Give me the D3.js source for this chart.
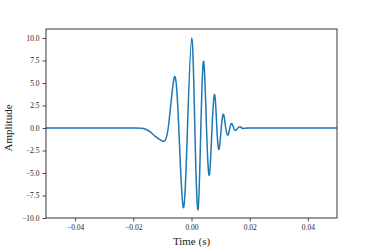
<!DOCTYPE html>
<html>
<head>
<meta charset="utf-8">
<script src="https://cdn.jsdelivr.net/npm/d3@7"></script>
<style>
  body { margin: 0; background: #fff; }
  svg { display: block; }
  .tick text { font-family: "Liberation Serif", "DejaVu Serif", serif; }
</style>
</head>
<body>
<svg id="chart" width="374" height="249"></svg>
<script>
// waveform (extrema + zero crossings)
var time = [-0.05, -0.03, -0.0195, -0.0171, -0.0160, -0.01426, -0.01254, -0.0102, -0.0080,
    -0.0059, -0.00437, -0.00282, -0.00138, 0.00007, 0.00115, 0.00223, 0.00321, 0.00419,
    0.00516, 0.00612, 0.00705, 0.00797, 0.00871, 0.00945, 0.01023, 0.0110, 0.01177,
    0.01254, 0.01318, 0.01381, 0.0145, 0.01519, 0.01593, 0.01667, 0.0173, 0.0179,
    0.0195, 0.03, 0.05];
var amplitude = [0, 0, 0, -0.02, -0.11, -0.41, -0.9, -1.42, 0,
    5.65, 0, -8.85, 0, 10.0, 0, -9.07, 0, 7.4,
    0, -5.24, 0, 3.7, 0, -2.38, 0, 1.52, 0,
    -0.78, 0, 0.5, 0, -0.28, 0, 0.15, 0, -0.05,
    0, 0, 0];

var xTicks = [-0.04, -0.02, 0.00, 0.02, 0.04];
var yTicks = [-10, -7.5, -5, -2.5, 0, 2.5, 5, 7.5, 10];

var data = time.map(function(t, i) {
    return {t: t, a: amplitude[i]};
});

var svg = d3.select("#chart");
var margin = {top: 29, right: 37, bottom: 31, left: 46},
    width = +svg.attr("width"),
    height = +svg.attr("height");

var x = d3.scaleLinear()
    .domain([-0.05, 0.05])
    .range([margin.left, width - margin.right]);

var y = d3.scaleLinear()
    .domain([-10, 11])
    .range([height - margin.bottom, margin.top]);

var line = d3.line()
    .x(function(d) { return x(d.t); })
    .y(function(d) { return y(d.a); })
    .curve(d3.curveNatural);

svg.append("path")
    .datum(data)
    .attr("fill", "none")
    .attr("stroke", "#1f77b4")
    .attr("stroke-width", 1.5)
    .attr("stroke-linejoin", "round")
    .attr("d", line);

// axes
var xAxis = svg.append("g")
    .attr("transform", "translate(0," + (height - margin.bottom) + ")")
    .call(d3.axisBottom(x).tickValues(xTicks).tickFormat(d3.format(".2f")).tickSizeOuter(0).tickSize(3.5).tickPadding(3));

var yAxis = svg.append("g")
    .attr("transform", "translate(" + margin.left + ",0)")
    .call(d3.axisLeft(y).tickValues(yTicks).tickFormat(d3.format(".1f")).tickSizeOuter(0).tickSize(3.5).tickPadding(3));

[xAxis, yAxis].forEach(function(g) {
    g.select(".domain").remove();
    g.selectAll(".tick line").attr("stroke", "#222").attr("stroke-width", 0.8);
    g.selectAll(".tick text").attr("font-size", 7.5).attr("fill", "#222");
});

// frame
svg.append("rect")
    .attr("x", margin.left)
    .attr("y", margin.top)
    .attr("width", width - margin.left - margin.right)
    .attr("height", height - margin.top - margin.bottom)
    .attr("fill", "none")
    .attr("stroke", "#222")
    .attr("stroke-width", 0.9);

svg.append("text")
    .attr("x", (margin.left + width - margin.right) / 2)
    .attr("y", 245)
    .attr("text-anchor", "middle")
    .attr("font-family", "Liberation Serif, DejaVu Serif, serif")
    .attr("font-size", 11)
    .attr("fill", "#222")
    .text("Time (s)");

svg.append("text")
    .attr("transform", "translate(12," + y(0) + ") rotate(-90)")
    .attr("text-anchor", "middle")
    .attr("font-family", "Liberation Serif, DejaVu Serif, serif")
    .attr("font-size", 11)
    .attr("fill", "#222")
    .text("Amplitude");
</script>
</body>
</html>
